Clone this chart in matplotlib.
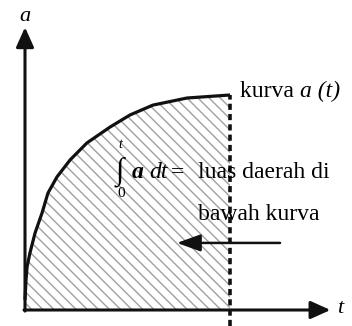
import matplotlib
matplotlib.use("Agg")
import matplotlib.pyplot as plt

# curve a(t)
t_vals = [0, 0.05, 0.10, 0.24, 0.49, 0.83, 1.12, 1.56, 2.20, 3.02, 4.15,
          5.12, 6.24, 7.90, 10.0]
a_vals = [0.47, 1.40, 2.00, 2.65, 3.58, 4.51, 5.44, 6.19, 6.98, 7.77, 8.51,
          9.07, 9.53, 9.86, 10.0]

curve_label = "kurva "
curve_label_it = "a (t)"
area_label_1 = "luas daerah di"
area_label_2 = "bawah kurva"

plt.rcParams['font.family'] = ['Liberation Serif', 'DejaVu Serif']
plt.rcParams['hatch.linewidth'] = 1.0

fig = plt.figure(figsize=(3.52, 3.26), dpi=100)
ax = fig.add_axes([0, 0, 1, 1])
ax.set_xlim(-25 / 20.5, 327 / 20.5)
ax.set_ylim(-16 / 21.5, 310 / 21.5)
ax.axis('off')

# hatched area under the curve
ax.fill_between(t_vals, a_vals, 0, facecolor='none', edgecolor='#a0a0a0',
                hatch='\\\\\\', linewidth=0)

# curve
ax.plot(t_vals, a_vals, color='#111111', lw=2.3, solid_capstyle='butt',
        solid_joinstyle='round')

# dashed vertical line at the end of the area
ax.vlines(t_vals[-1], -16 / 21.5, a_vals[-1], colors='#111111', lw=2.6,
          linestyles=(0, (1.7, 1.15)))

# axes arrows
arr = dict(arrowstyle='-|>,head_length=0.6,head_width=0.27', lw=2.2,
           color='#111111', shrinkA=0, shrinkB=0, mutation_scale=20)
ax.annotate('', xy=(0, 13.15), xytext=(0, -0.05), arrowprops=arr)
ax.annotate('', xy=(14.9, 0), xytext=(-0.05, 0), arrowprops=arr)

# axis labels
ax.text(0, 13.67, 'a', style='italic', fontsize=16, ha='center', va='center')
ax.text(15.37, 0.05, 't', style='italic', fontsize=16, ha='center', va='center')

# curve label
tx = ax.text(10.49, 9.9, curve_label, fontsize=17, ha='left', va='baseline')
ax.annotate(curve_label_it, xycoords=tx, xy=(1, 0), va='bottom',
            ha='left', fontsize=17, style='italic')

# integral expression
ax.text(4.63, 6.45, '\u222b', fontsize=22, ha='center', va='center')
ax.text(4.66, 7.68, 't', fontsize=10, style='italic', ha='center', va='center')
ax.text(4.68, 5.44, '0', fontsize=11, ha='center', va='center')
ax.text(5.2, 6.14, 'a', fontsize=17, style='italic', weight='bold', va='baseline')
ax.text(6.05, 6.14, 'dt', fontsize=17, style='italic', va='baseline')
ax.text(7.12, 6.14, '=', fontsize=17, va='baseline')
ax.text(8.44, 6.14, area_label_1, fontsize=17, va='baseline')
ax.text(8.44, 4.19, area_label_2, fontsize=17, va='baseline')

# arrow pointing into the area
ax.annotate('', xy=(7.41, 3.12), xytext=(12.44, 3.12),
            arrowprops=dict(arrowstyle='-|>,head_length=0.72,head_width=0.26',
                            lw=1.8, color='#111111', shrinkA=0, shrinkB=0,
                            mutation_scale=20))

fig.savefig('out.png', dpi=100)
